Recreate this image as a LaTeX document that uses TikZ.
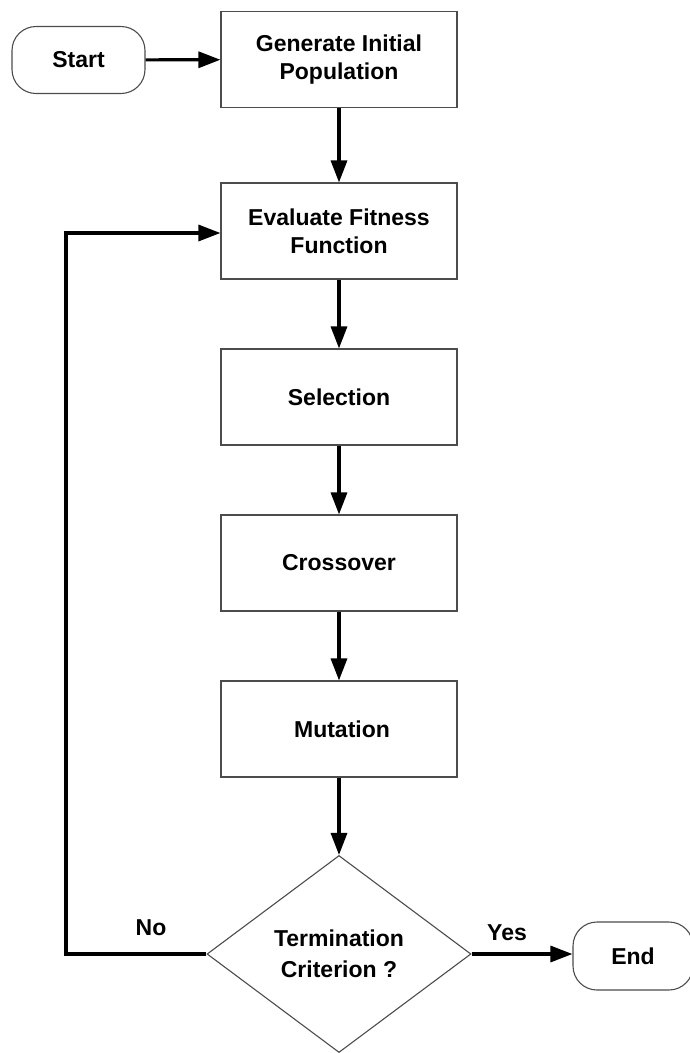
\documentclass[tikz,border=0pt]{standalone}
\usepackage{fontspec}
\setmainfont{Liberation Sans}
\usetikzlibrary{shapes.geometric,arrows.meta}
\begin{document}
\begin{tikzpicture}[x=1pt,y=-1pt,
  lbl/.style={font=\fontsize{23}{28}\selectfont\bfseries},
  procbox/.style={draw=black!70,line width=1.1pt,minimum width=236pt,minimum height=96pt,inner sep=0pt,align=center,lbl},
  termbox/.style={draw=black!70,line width=1.1pt,rounded corners=24pt,minimum height=67pt,inner sep=0pt,align=center,lbl},
  decbox/.style={draw=black!70,line width=1.1pt,diamond,minimum width=264pt,minimum height=197pt,inner sep=0pt,align=center,font=\fontsize{23}{31}\selectfont\bfseries},
  flow/.style={line width=3.2pt,-{Triangle[length=22pt,width=16pt]}}]
\useasboundingbox (0,0) rectangle (689,1053);
\node[termbox,minimum width=133pt] (start) at (78.5,60) {Start};
\node[procbox] (gen) at (339,59.5) {Generate Initial\\Population};
\node[procbox] (eval) at (339,231) {Evaluate Fitness\\Function};
\node[procbox] (sel) at (339,397) {Selection};
\node[procbox] (cross) at (339,563) {Crossover};
\node[procbox] (mut) at (339,729) {\hspace{6pt}Mutation};
\node[decbox] (term) at (339,954) {Termination\\Criterion ?};
\node[termbox,minimum width=120pt,minimum height=68pt] (end) at (633,956) {End};
\coordinate (c1) at (66,954);
\coordinate (c2) at (66,233);
\node[lbl] (no) at (151,928) {No};
\node[lbl] (yes) at (507,933) {Yes};
\draw[flow] (start) -- (gen);
\draw[flow] (gen) -- (eval);
\draw[flow] (eval) -- (sel);
\draw[flow] (sel) -- (cross);
\draw[flow] (cross) -- (mut);
\draw[flow] (mut) -- (term.north);
\draw[flow] (term.east) -- (end.west |- term.east);
\draw[flow,line join=miter] (term.west) -- (c1) -- (c2) -- (eval.west |- c2);
\end{tikzpicture}
\end{document}
